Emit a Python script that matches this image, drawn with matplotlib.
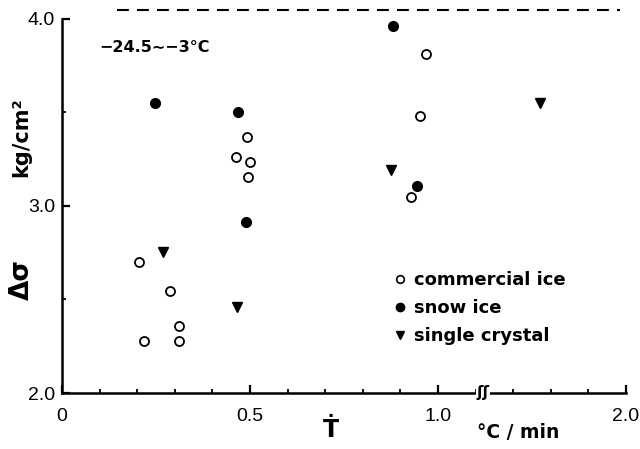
import numpy as np
import matplotlib
matplotlib.use("Agg")
import matplotlib.pyplot as plt
from matplotlib.lines import Line2D

# ------------------------------------------------------------------
# Data (x: cooling rate degC/min, y: kg/cm^2)
# ------------------------------------------------------------------
commercial_x = [0.205, 0.218, 0.288, 0.311, 0.312, 0.462, 0.492, 0.500, 0.494, 0.927, 0.952, 0.968]
commercial_y = [2.70, 2.28, 2.545, 2.36, 2.28, 3.26, 3.37, 3.235, 3.155, 3.05, 3.48, 3.81]

snow_x = [0.247, 0.468, 0.489, 0.879, 0.944]
snow_y = [3.55, 3.50, 2.915, 3.963, 3.107]

single_x = [0.269, 0.466, 0.874, 1.77]
single_y = [2.754, 2.46, 3.19, 3.55]

limit_y = 4.05
xtick_vals = [0, 0.5, 1.0, 2.0]
xtick_labels = ["0", "0.5", "1.0", "2.0"]
xminor_vals = [0.1, 0.2, 0.3, 0.4, 0.6, 0.7, 0.8, 0.9, 1.1, 1.7, 1.8, 1.9]
ytick_vals = [2.0, 3.0, 4.0]
ytick_labels = ["2.0", "3.0", "4.0"]
yminor_vals = [2.5, 3.5]

# broken x axis: 1.12 .. 1.62 is cut out
B1, B2 = 1.12, 1.62


def fwd(x):
    x = np.asarray(x, dtype=float)
    return np.where(x <= B1, x, np.where(x >= B2, x - (B2 - B1), B1))


def inv(y):
    y = np.asarray(y, dtype=float)
    return np.where(y <= B1, y, y + (B2 - B1))


plt.rcParams['font.family'] = ['DejaVu Sans']

fig = plt.figure(figsize=(6.4, 4.49), dpi=100)
ax = fig.add_axes([62 / 640, 1 - 393 / 449, 564 / 640, 389 / 449])
ax.set_xscale('function', functions=(fwd, inv))
ax.set_xlim(0, 2.0)
ax.set_ylim(2.0, 4.08)

ax.plot(commercial_x, commercial_y, 'o', ms=6.5, mfc='white', mec='black', mew=1.3, ls='none')
ax.plot(snow_x, snow_y, 'o', ms=7, mfc='black', mec='black', ls='none')
ax.plot(single_x, single_y, 'v', ms=6.5, mfc='black', mec='black', ls='none')

# upper dashed line
ax.plot([0.145, 1.984], [limit_y, limit_y], color='black', lw=1.5, dashes=(5.7, 3.9))

# spines / ticks
for s in ['top', 'right']:
    ax.spines[s].set_visible(False)
for s in ['left', 'bottom']:
    ax.spines[s].set_linewidth(1.8)
ax.spines['left'].set_bounds(2.0, 4.0)
ax.spines['bottom'].set_bounds(0, 2.0)

ax.set_xticks(xtick_vals)
ax.set_xticklabels(xtick_labels)
ax.set_xticks(xminor_vals, minor=True)
ax.set_yticks(ytick_vals)
ax.set_yticklabels(ytick_labels)
ax.set_yticks(yminor_vals, minor=True)
ax.tick_params(which='major', direction='in', length=6, width=1.6, labelsize=14)
ax.tick_params(which='minor', direction='in', length=3, width=1.3)
ax.tick_params(axis='x', which='major', pad=11)
ax.tick_params(axis='y', which='major', pad=5)
for lab in ax.get_xticklabels() + ax.get_yticklabels():
    lab.set_fontfamily('Liberation Sans')

# axis break mark
ax.text(1.12, 2.0, "ʃʃ", ha='center', va='center', fontsize=11, fontweight='bold',
        transform=ax.transData, bbox=dict(facecolor='white', edgecolor='none', pad=0.5))

# annotation
ax.text(0.10, 3.85, "−24.5∼−3°C", fontsize=11.5, fontweight='bold', ha='left', va='center')

# legend
handles = [
    Line2D([], [], marker='o', ls='none', ms=5.5, mfc='white', mec='black', mew=1.2),
    Line2D([], [], marker='o', ls='none', ms=6, mfc='black', mec='black'),
    Line2D([], [], marker='v', ls='none', ms=5.5, mfc='black', mec='black'),
]
leg = ax.legend(handles, ["commercial ice", "snow ice", "single crystal"],
                loc='center left', bbox_to_anchor=(0.56, 0.218), frameon=False,
                handlelength=0.6, handletextpad=0.5, labelspacing=0.55,
                prop={'weight': 'bold', 'size': 13})

# axis labels
fig.text(21 / 640, 1 - 137 / 449, "kg/cm²", rotation=90, ha='center', va='center',
         fontsize=15, fontweight='bold')
fig.text(22 / 640, 1 - 279 / 449, "Δσ", rotation=90, ha='center', va='center',
         fontsize=19, fontweight='bold')
fig.text(331 / 640, 1 - 430 / 449, "Ṫ", ha='center', va='center', fontsize=17,
         fontweight='bold')
fig.text(477 / 640, 1 - 432 / 449, "°C / min", ha='left', va='center',
         fontsize=13.5, fontweight='bold')

fig.savefig('out.png', dpi=100)
